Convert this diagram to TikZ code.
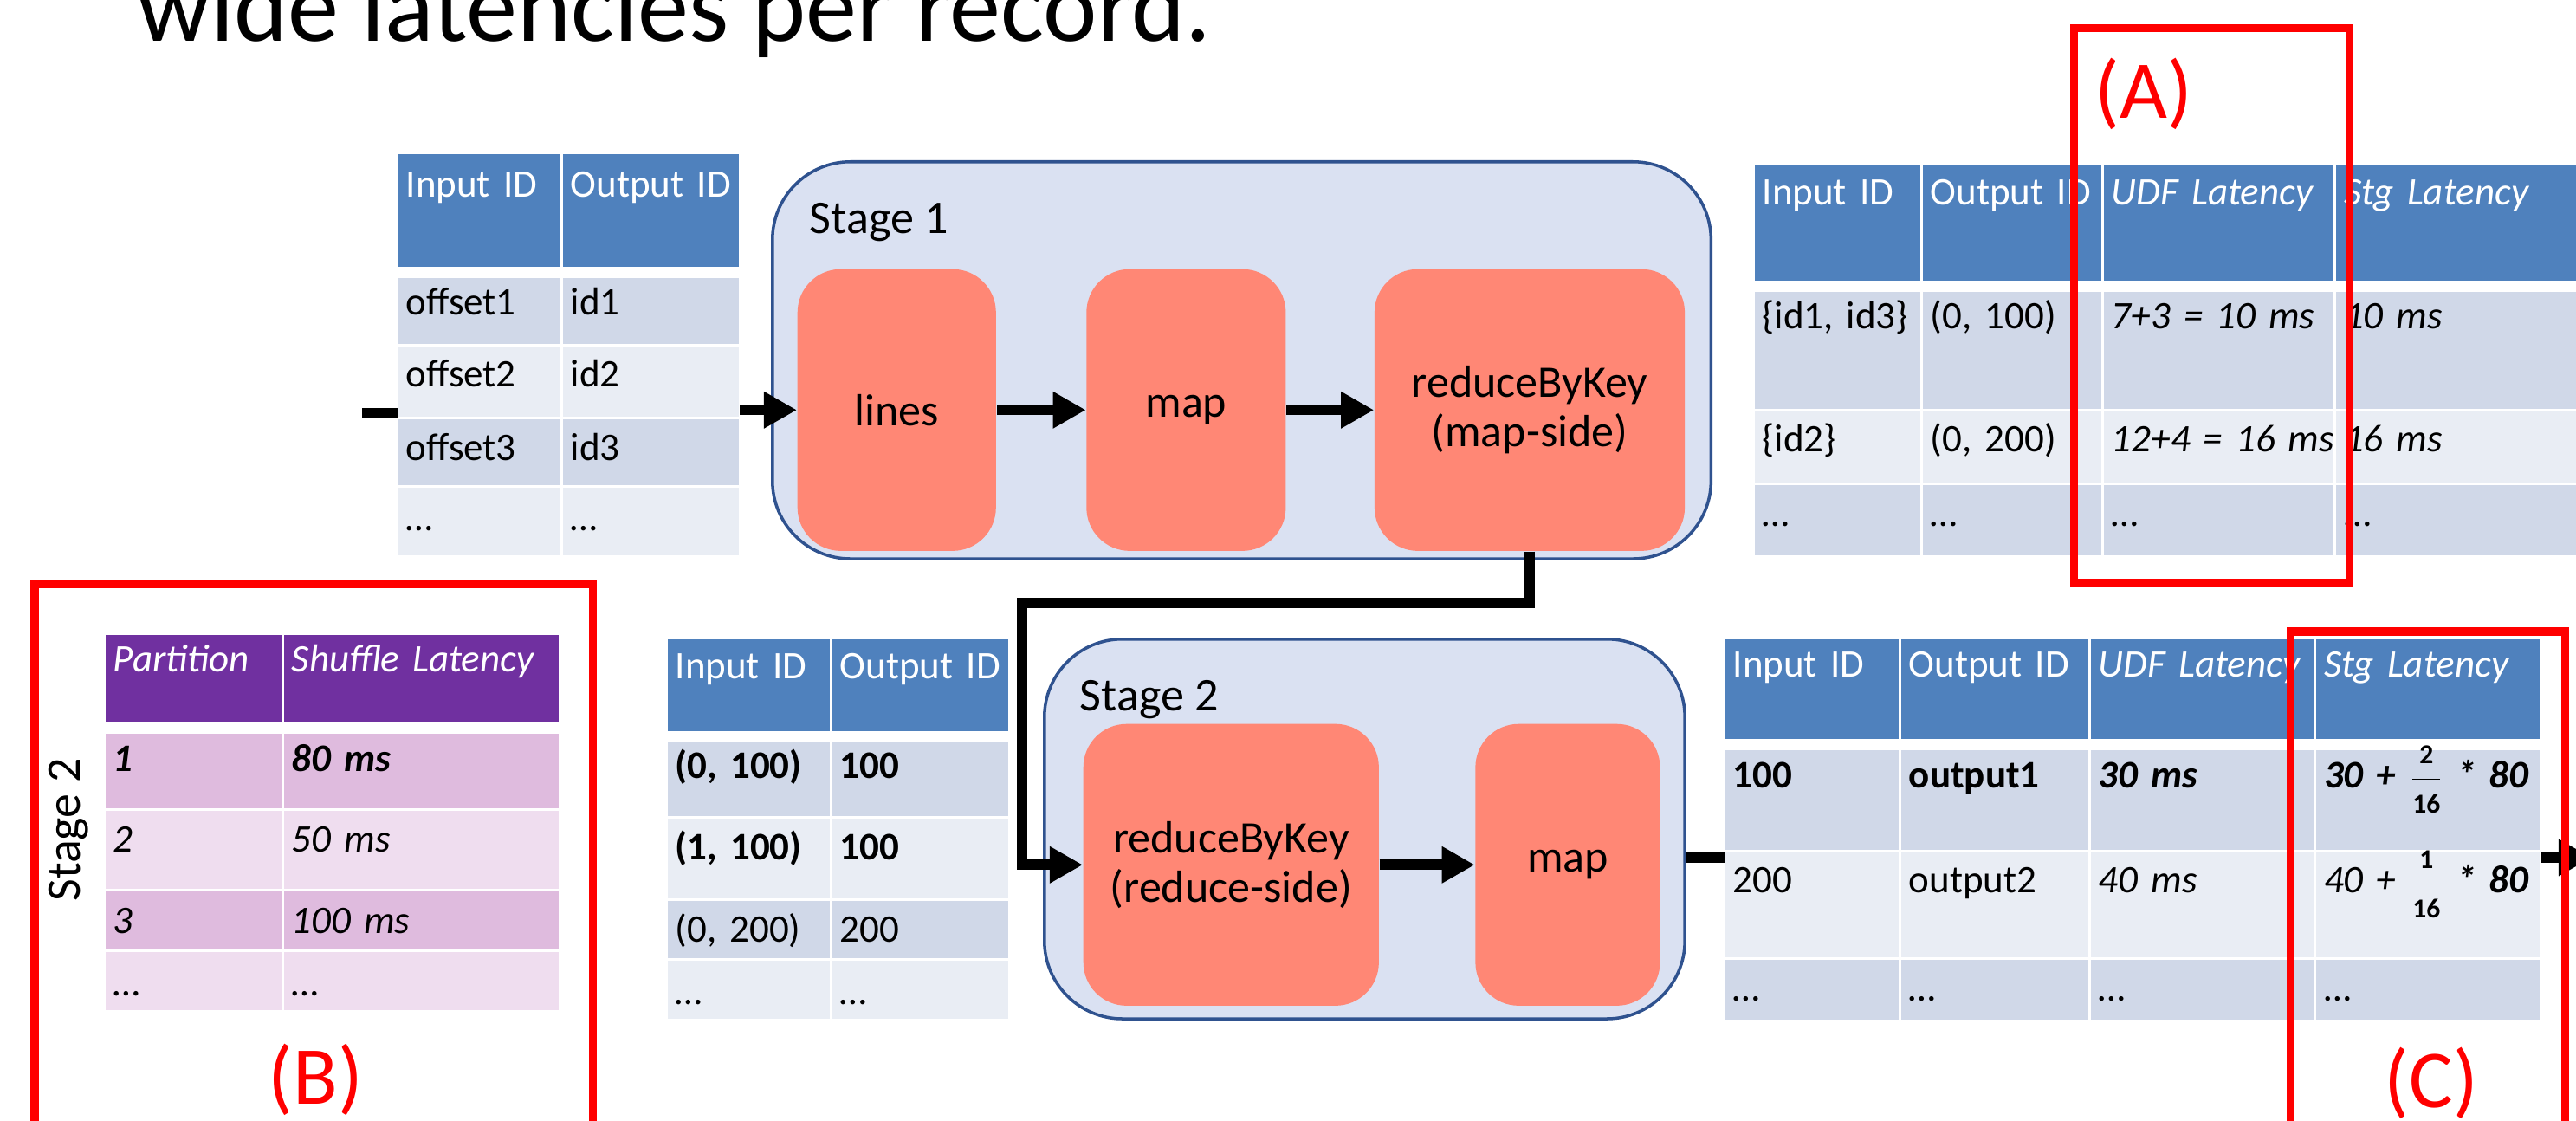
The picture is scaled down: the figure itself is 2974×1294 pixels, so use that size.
\documentclass[tikz,border=0pt]{standalone}
\usepackage{fontspec}
\setmainfont{Carlito}
\usetikzlibrary{arrows.meta,positioning,matrix}

\definecolor{hdblue}{RGB}{79,129,189}
\definecolor{bluedk}{RGB}{208,216,232}
\definecolor{bluelt}{RGB}{233,237,244}
\definecolor{purphd}{RGB}{112,48,160}
\definecolor{purpdk}{RGB}{223,187,222}
\definecolor{purplt}{RGB}{239,221,239}
\definecolor{stagefill}{RGB}{218,225,242}
\definecolor{stageline}{RGB}{47,82,143}
\definecolor{salmon}{RGB}{255,135,117}
\definecolor{tagred}{RGB}{255,0,0}

% fraction used in the stage latency column
\newcommand\sfrac[2]{$\displaystyle\frac{\scriptstyle\mathbf{#1}}{\scriptstyle\mathbf{#2}}$}

\tikzset{
  flow/.style={line width=0.12cm, -{Triangle[length=0.38cm,width=0.40cm]}},
  stub/.style={line width=0.12cm},
  stage/.style={draw=stageline, line width=1pt, fill=stagefill, rounded corners=0.9cm, anchor=north west, inner sep=0pt},
  stagelbl/.style={anchor=base west, inner sep=0pt, font=\fontsize{15.4}{18}\selectfont},
  op/.style={fill=salmon, rounded corners=0.5cm, minimum height=3.25cm, inner sep=0pt, align=center, font=\fontsize{14.8}{16.2}\selectfont},
  tagbox/.style={draw=tagred, line width=0.09cm},
  tag/.style={text=tagred, anchor=base west, inner sep=0pt, font=\fontsize{27}{30}\selectfont},
  tbl/.style={matrix of nodes, anchor=north west, inner sep=0pt, column sep=0.03cm, row sep=0.03cm,
    nodes={anchor=base, inner xsep=0.09cm, inner ysep=0pt, align=left, font=\fontsize{12.8}{15}\selectfont}},
  rh/.style 2 args={text height=#1, text depth=#2},
  hdr/.style={fill=hdblue, text=white},
  dkrow/.style={fill=bluedk},
  ltrow/.style={fill=bluelt},
  phdr/.style={fill=purphd, text=white},
  pdkrow/.style={fill=purpdk},
  pltrow/.style={fill=purplt},
}

\begin{document}
\begin{tikzpicture}[x=0.01cm, y=-0.01cm]
\useasboundingbox (0,0) rectangle (2974,1294);
\clip (0,0) rectangle (2974,1294);

\node[anchor=base west, inner sep=0pt, font=\fontsize{33.6}{40}\selectfont] (title) at (158,48) {wide latencies per record.};

% stage 1
\node[stage, minimum width=10.83cm, minimum height=4.58cm] (stageone) at (890,185) {};
\node[stagelbl] (stageonelbl) at (934,270) {Stage 1};
\node[op, minimum width=2.29cm, anchor=north west] (lines) at (920,310) {lines};
\node[op, minimum width=2.30cm, right=1.03cm of lines] (mapone) {map};
\node[op, minimum width=3.58cm, right=1.01cm of mapone] (rbkone) {reduceByKey\\(map-side)};

% stage 2
\node[stage, minimum width=7.39cm, minimum height=4.38cm] (stagetwo) at (1204,736) {};
\node[stagelbl] (stagetwolbl) at (1246,820) {Stage 2};
\node[op, minimum width=3.41cm, anchor=north west] (rbktwo) at (1250,835) {reduceByKey\\(reduce-side)};
\node[op, minimum width=2.13cm, right=1.10cm of rbktwo] (maptwo) {map};

% record tables
\matrix (tabin) [tbl,
  column 1/.style={nodes={text width=1.69cm}},
  column 2/.style={nodes={text width=1.85cm}},
  row 1/.style={nodes={hdr, rh={0.50cm}{0.80cm}}},
  row 2/.style={nodes={dkrow, rh={0.43cm}{0.33cm}}},
  row 3/.style={nodes={ltrow, rh={0.47cm}{0.34cm}}},
  row 4/.style={nodes={dkrow, rh={0.48cm}{0.28cm}}},
  row 5/.style={nodes={ltrow, rh={0.50cm}{0.28cm}}}] at (459,177) {
  Input ID & Output ID \\[0.1cm]
  offset1 & id1 \\
  offset2 & id2 \\
  offset3 & id3 \\
  … & … \\
};

\matrix (tabA) [tbl,
  column 1/.style={nodes={text width=1.73cm}},
  column 2/.style={nodes={text width=1.88cm}},
  column 3/.style={nodes={text width=2.47cm}},
  column 4/.style={nodes={text width=2.62cm}},
  row 1/.style={nodes={hdr, rh={0.47cm}{0.87cm}}},
  row 2/.style={nodes={dkrow, rh={0.43cm}{0.92cm}}},
  row 3/.style={nodes={ltrow, rh={0.47cm}{0.35cm}}},
  row 4/.style={nodes={dkrow, rh={0.48cm}{0.33cm}}}] at (2025,189) {
  Input ID & Output ID & \itshape UDF Latency & \itshape Stg Latency \\[0.1cm]
  \{id1, id3\} & (0, 100) & \itshape 7+3~=~10~ms & \itshape 10 ms \\
  \{id2\} & (0, 200) & \itshape 12+4~=~16~ms & \itshape 16 ms \\
  … & … & … & … \\
};

\matrix (tabB) [tbl,
  column 1/.style={nodes={text width=1.69cm}},
  column 2/.style={nodes={text width=1.85cm}},
  row 1/.style={nodes={hdr, rh={0.46cm}{0.60cm}}},
  row 2/.style={nodes={dkrow, rh={0.43cm}{0.43cm}}},
  row 3/.style={nodes={ltrow, rh={0.48cm}{0.44cm}}},
  row 4/.style={nodes={dkrow, rh={0.48cm}{0.18cm}}},
  row 5/.style={nodes={ltrow, rh={0.51cm}{0.16cm}}}] at (770,737) {
  Input ID & Output ID \\[0.09cm]
  \bfseries (0, 100) & \bfseries 100 \\
  \bfseries (1, 100) & \bfseries 100 \\
  (0, 200) & 200 \\
  … & … \\
};

\matrix (tabC) [tbl,
  column 1/.style={nodes={text width=1.82cm}},
  column 2/.style={nodes={text width=1.98cm}},
  column 3/.style={nodes={text width=2.39cm}},
  column 4/.style={nodes={text width=2.41cm}},
  row 1/.style={nodes={hdr, rh={0.44cm}{0.71cm}}},
  row 2/.style={nodes={dkrow, rh={0.44cm}{0.71cm}}},
  row 3/.style={nodes={ltrow, rh={0.47cm}{0.74cm}}},
  row 4/.style={nodes={dkrow, rh={0.48cm}{0.21cm}}}] at (1991,737) {
  Input ID & Output ID & \itshape UDF Latency & \itshape Stg Latency \\[0.1cm]
  \bfseries 100 & \bfseries output1 & \bfseries\itshape 30 ms & \bfseries\itshape 30~+~\sfrac{2}{16}~*~80 \\
  200 & output2 & \itshape 40 ms & \itshape 40~+~\sfrac{1}{16}~\textbf{*~80} \\
  … & … & … & … \\
};

% shuffle table
\matrix (tabS) [tbl,
  column 1/.style={nodes={text width=1.85cm}},
  column 2/.style={nodes={text width=2.99cm}},
  row 1/.style={nodes={phdr, rh={0.43cm}{0.58cm}}},
  row 2/.style={nodes={pdkrow, rh={0.44cm}{0.42cm}}},
  row 3/.style={nodes={pltrow, rh={0.48cm}{0.42cm}}},
  row 4/.style={nodes={pdkrow, rh={0.49cm}{0.18cm}}},
  row 5/.style={nodes={pltrow, rh={0.51cm}{0.16cm}}}] at (121,732) {
  \itshape Partition & \itshape Shuffle Latency \\[0.1cm]
  \bfseries\itshape 1 & \bfseries\itshape 80 ms \\
  \itshape 2 & \itshape 50 ms \\
  \itshape 3 & \itshape 100 ms \\
  … & … \\
};
\node[rotate=90, inner sep=0pt, font=\fontsize{15.9}{18}\selectfont] (stagetwoside) at (79,958) {Stage 2};

% data flow
\coordinate (src) at (418,477);
\coordinate (bend) at (1180,696);
\coordinate (sink) at (2992,990);
\draw[stub] (src) -- (src -| tabin.west);
\draw[flow] (tabin.east |- lines) -- (lines);
\draw[flow] (lines) -- (mapone);
\draw[flow] (mapone) -- (rbkone);
\draw[flow] (rbkone.south) |- (bend) |- (rbktwo);
\draw[flow] (rbktwo) -- (maptwo);
\draw[stub] (stagetwo.east |- sink) -- (tabC.west |- sink);
\draw[flow] (tabC.east |- sink) -- (sink);

% highlighted columns
\draw[tagbox] (2394,33) rectangle (2712,673);
\draw[tagbox] (40,674) rectangle (684,1330);
\draw[tagbox] (2644,729) rectangle (2961,1330);
\node[tag] (tagA) at (2418,137) {(A)};
\node[tag] (tagB) at (309,1274) {(B)};
\node[tag] (tagC) at (2752,1278) {(C)};
\end{tikzpicture}
\end{document}
